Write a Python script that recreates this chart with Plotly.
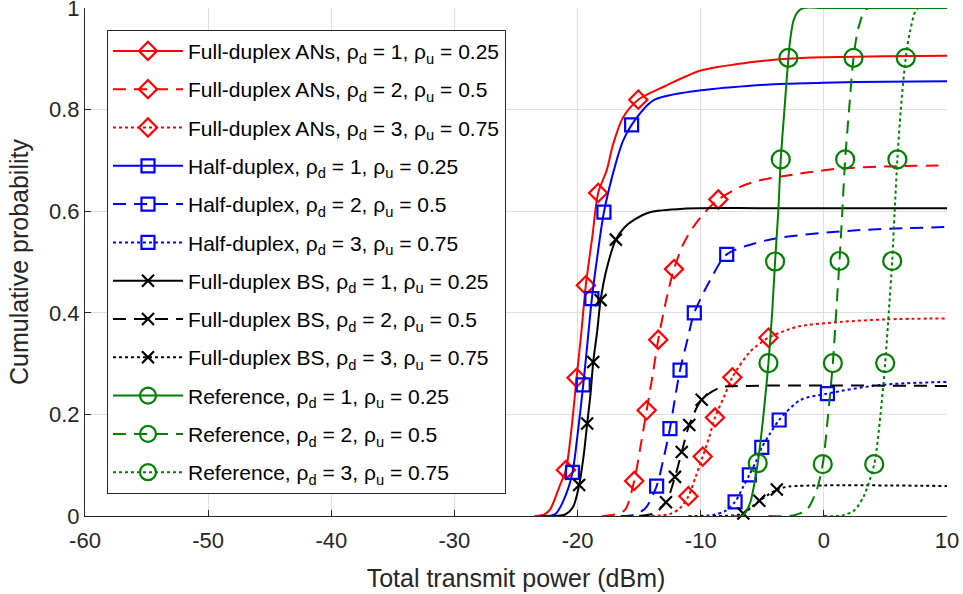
import plotly.graph_objects as go

# ---------------- data ----------------
x_ticks = [-60, -50, -40, -30, -20, -10, 0, 10]
x_tick_labels = ["-60", "-50", "-40", "-30", "-20", "-10", "0", "10"]
y_ticks = [0, 0.2, 0.4, 0.6, 0.8, 1.0]
y_tick_labels = ["0", "0.2", "0.4", "0.6", "0.8", "1"]

# Full-duplex ANs
fdan1_x = [-23.5, -22.8, -22.25, -21.44, -20.95, -20.5, -20.08, -19.7, -19.33, -18.8, -18.33, -17.64, -17.1, -16.3, -15.07, -13, -10, -6, -3, 0, 5, 10]
fdan1_y = [0.0, 0.002, 0.012, 0.06, 0.0905, 0.17, 0.272, 0.36, 0.454, 0.55, 0.636, 0.68, 0.733, 0.785, 0.8195, 0.845, 0.877, 0.893, 0.900, 0.903, 0.905, 0.906]
fdan1_mx = [-20.95, -20.08, -19.33, -18.33, -15.07]
fdan1_my = [0.0905, 0.272, 0.454, 0.636, 0.8195]

fdan2_x = [-18, -17, -16.15, -15.4, -14.9, -14.39, -13.9, -13.45, -12.85, -12.17, -11.4, -10.6, -9.5, -8.57, -6.8, -5.17, -1.1, 1.33, 5, 10]
fdan2_y = [0.0, 0.003, 0.012, 0.069, 0.135, 0.208, 0.278, 0.347, 0.42, 0.486, 0.536, 0.569, 0.602, 0.623, 0.648, 0.661, 0.677, 0.684, 0.688, 0.690]
fdan2_mx = [-15.4, -14.39, -13.45, -12.17, -8.57]
fdan2_my = [0.069, 0.208, 0.347, 0.486, 0.623]

fdan3_x = [-14, -12.5, -11.7, -11.0, -10.4, -9.84, -9.3, -8.84, -8.1, -7.43, -6.0, -4.5, -3.0, -1.9, 1.33, 5, 10]
fdan3_y = [0.0, 0.004, 0.015, 0.039, 0.078, 0.117, 0.156, 0.194, 0.235, 0.273, 0.323, 0.351, 0.366, 0.374, 0.382, 0.387, 0.389]
fdan3_mx = [-11.0, -9.84, -8.84, -7.43, -4.5]
fdan3_my = [0.039, 0.117, 0.194, 0.273, 0.351]

# Half-duplex
hd1_x = [-23, -21.8, -20.9, -20.41, -20.0, -19.54, -19.2, -18.84, -18.4, -17.86, -16.83, -16.3, -15.61, -13.85, -10, -6, -3, 0, 5, 10]
hd1_y = [0.0, 0.004, 0.045, 0.086, 0.16, 0.258, 0.34, 0.428, 0.51, 0.598, 0.70, 0.739, 0.77, 0.818, 0.838, 0.847, 0.851, 0.853, 0.855, 0.856]
hd1_mx = [-20.41, -19.54, -18.84, -17.86, -15.61]
hd1_my = [0.086, 0.258, 0.428, 0.598, 0.77]

hd2_x = [-16.5, -15.5, -14.5, -13.58, -13.0, -12.5, -12.1, -11.68, -11.1, -10.52, -9.24, -7.89, -5.72, -3.55, 2.4, 10]
hd2_y = [0.0, 0.002, 0.015, 0.059, 0.115, 0.172, 0.23, 0.287, 0.345, 0.400, 0.464, 0.515, 0.536, 0.548, 0.562, 0.569]
hd2_mx = [-13.58, -12.5, -11.68, -10.52, -7.89]
hd2_my = [0.059, 0.172, 0.287, 0.400, 0.515]

hd3_x = [-11, -9, -8, -7.21, -6.6, -6.05, -5.5, -5.04, -4.35, -3.63, -1.92, 0.29, 4.58, 10]
hd3_y = [0.0, 0.002, 0.01, 0.028, 0.055, 0.081, 0.108, 0.135, 0.163, 0.189, 0.228, 0.241, 0.258, 0.264]
hd3_mx = [-7.21, -6.05, -5.04, -3.63, 0.29]
hd3_my = [0.028, 0.081, 0.135, 0.189, 0.241]

# Full-duplex BS
fdbs1_x = [-22, -21, -20.36, -19.87, -19.5, -19.22, -18.95, -18.73, -18.4, -18.13, -17.6, -16.89, -16.2, -15.48, -14.12, -11.4, -5, 10]
fdbs1_y = [0.0, 0.003, 0.018, 0.061, 0.12, 0.182, 0.24, 0.303, 0.365, 0.425, 0.49, 0.544, 0.568, 0.582, 0.598, 0.605, 0.606, 0.606]
fdbs1_mx = [-19.87, -19.22, -18.73, -18.13, -16.89]
fdbs1_my = [0.061, 0.182, 0.303, 0.425, 0.544]

fdbs2_x = [-15, -13.8, -12.82, -12.09, -11.54, -10.93, -9.92, -8.4, -6.5, 10]
fdbs2_y = [0.0, 0.005, 0.027, 0.077, 0.126, 0.179, 0.229, 0.253, 0.256, 0.256]
fdbs2_mx = [-12.82, -12.09, -11.54, -10.93, -9.92]
fdbs2_my = [0.027, 0.077, 0.126, 0.179, 0.229]

fdbs3_x = [-9, -7.5, -6.54, -5.9, -5.24, -4.5, -3.82, -2.8, 10]
fdbs3_y = [0.0, 0.001, 0.005, 0.017, 0.030, 0.042, 0.052, 0.058, 0.059]
fdbs3_mx = [-6.54, -5.24, -3.82]
fdbs3_my = [0.005, 0.030, 0.052]

# Reference
ref1_x = [-7.5, -6.54, -6.0, -5.37, -4.9, -4.5, -4.2, -3.96, -3.7, -3.5, -3.2, -2.88, -2.74, -2.47, -2.1, -1.66, 0, 10]
ref1_y = [0.0, 0.002, 0.025, 0.104, 0.2, 0.301, 0.4, 0.501, 0.6, 0.702, 0.8, 0.902, 0.936, 0.975, 0.993, 1.0, 1.0, 1.0]
ref1_mx = [-5.37, -4.5, -3.96, -3.5, -2.88]
ref1_my = [0.104, 0.301, 0.501, 0.702, 0.902]

ref2_x = [-4.5, -2.5, -1.4, -0.6, -0.09, 0.35, 0.73, 1.0, 1.27, 1.5, 1.73, 2.05, 2.41, 2.8, 3.45, 5, 10]
ref2_y = [0.0, 0.001, 0.012, 0.05, 0.102, 0.2, 0.301, 0.4, 0.502, 0.6, 0.702, 0.8, 0.902, 0.96, 0.998, 1.0, 1.0]
ref2_mx = [-0.09, 0.73, 1.27, 1.73, 2.41]
ref2_my = [0.102, 0.301, 0.502, 0.702, 0.902]

ref3_x = [0, 1.5, 2.5, 3.22, 4.09, 4.6, 4.98, 5.27, 5.55, 5.75, 5.97, 6.25, 6.65, 7.02, 7.56, 8.5, 10]
ref3_y = [0.0, 0.001, 0.012, 0.038, 0.102, 0.2, 0.301, 0.4, 0.502, 0.6, 0.702, 0.8, 0.902, 0.956, 0.998, 1.0, 1.0]
ref3_mx = [4.09, 4.98, 5.55, 5.97, 6.65]
ref3_my = [0.102, 0.301, 0.502, 0.702, 0.902]

RHO_D = "\u03c1<sub>d</sub>"
RHO_U = "\u03c1<sub>u</sub>"

series = [
    ("Full-duplex ANs", "1", "0.25", fdan1_x, fdan1_y, fdan1_mx, fdan1_my, "#ff0000", "solid", "diamond-open"),
    ("Full-duplex ANs", "2", "0.5", fdan2_x, fdan2_y, fdan2_mx, fdan2_my, "#ff0000", "dash", "diamond-open"),
    ("Full-duplex ANs", "3", "0.75", fdan3_x, fdan3_y, fdan3_mx, fdan3_my, "#ff0000", "dot", "diamond-open"),
    ("Half-duplex", "1", "0.25", hd1_x, hd1_y, hd1_mx, hd1_my, "#0000ff", "solid", "square-open"),
    ("Half-duplex", "2", "0.5", hd2_x, hd2_y, hd2_mx, hd2_my, "#0000ff", "dash", "square-open"),
    ("Half-duplex", "3", "0.75", hd3_x, hd3_y, hd3_mx, hd3_my, "#0000ff", "dot", "square-open"),
    ("Full-duplex BS", "1", "0.25", fdbs1_x, fdbs1_y, fdbs1_mx, fdbs1_my, "#000000", "solid", "x-thin-open"),
    ("Full-duplex BS", "2", "0.5", fdbs2_x, fdbs2_y, fdbs2_mx, fdbs2_my, "#000000", "dash", "x-thin-open"),
    ("Full-duplex BS", "3", "0.75", fdbs3_x, fdbs3_y, fdbs3_mx, fdbs3_my, "#000000", "dot", "x-thin-open"),
    ("Reference", "1", "0.25", ref1_x, ref1_y, ref1_mx, ref1_my, "#008000", "solid", "circle-open"),
    ("Reference", "2", "0.5", ref2_x, ref2_y, ref2_mx, ref2_my, "#008000", "dash", "circle-open"),
    ("Reference", "3", "0.75", ref3_x, ref3_y, ref3_mx, ref3_my, "#008000", "dot", "circle-open"),
]

DASHES = {"solid": "solid", "dash": "13px,8px", "dot": "3px,3px"}
MSIZE = {"diamond-open": 14, "square-open": 13, "x-thin-open": 12, "circle-open": 18}

fig = go.Figure()
for i, (nm, rd, ru, xs, ys, mx, my, col, dash, sym) in enumerate(series):
    grp = f"g{i}"
    label = f"{nm}, {RHO_D} = {rd}, {RHO_U} = {ru}"
    fig.add_trace(go.Scatter(x=xs, y=ys, mode="lines", legendgroup=grp, showlegend=False,
                             line=dict(color=col, width=2, dash=DASHES[dash], shape="spline", smoothing=0.8),
                             hoverinfo="skip"))
    fig.add_trace(go.Scatter(x=mx, y=my, mode="markers", legendgroup=grp, showlegend=False,
                             marker=dict(symbol=sym, size=MSIZE[sym], color=col,
                                         line=dict(color=col, width=2.2)),
                             cliponaxis=False))
    fig.add_trace(go.Scatter(x=[None], y=[None], mode="lines+markers", legendgroup=grp, name=label,
                             line=dict(color=col, width=2, dash=DASHES[dash]),
                             marker=dict(symbol=sym, size=MSIZE[sym], color=col,
                                         line=dict(color=col, width=2.2))))

FONT = "Liberation Sans, Arial, Helvetica, sans-serif"
axis_common = dict(showline=True, linecolor="#262626", linewidth=1, ticks="inside", ticklen=6,
                   tickcolor="#262626", showgrid=True, gridcolor="#dfdfdf", gridwidth=1,
                   zeroline=False, mirror=False, ticklabeloverflow="allow",
                   tickfont=dict(family=FONT, size=22, color="#262626"))

fig.update_layout(
    width=963, height=594,
    margin=dict(l=85, r=16, t=8, b=78, autoexpand=False),
    paper_bgcolor="white", plot_bgcolor="white",
    font=dict(family=FONT, color="#262626"),
    xaxis=dict(range=[-60, 10], tickvals=x_ticks, ticktext=x_tick_labels, automargin=False,
               ticklabelstandoff=5,
               title=dict(text="Total transmit power (dBm)", font=dict(family=FONT, size=25, color="#262626"),
                          standoff=17),
               **axis_common),
    yaxis=dict(range=[0, 1], tickvals=y_ticks, ticktext=y_tick_labels, automargin=False,
               title=dict(text="Cumulative probability", font=dict(family=FONT, size=25, color="#262626"),
                          standoff=13),
               **axis_common),
    legend=dict(x=0.0255, y=0.9572, xanchor="left", yanchor="top",
                bgcolor="white", bordercolor="#262626", borderwidth=1,
                font=dict(family=FONT, size=21, color="#000000"),
                itemwidth=70, tracegroupgap=8, traceorder="grouped",
                itemclick=False, itemdoubleclick=False),
    showlegend=True,
)

fig.write_html("out.html", config={"displayModeBar": False, "staticPlot": True},
               post_script="document.body.style.margin='0px';document.body.style.overflow='hidden';")
